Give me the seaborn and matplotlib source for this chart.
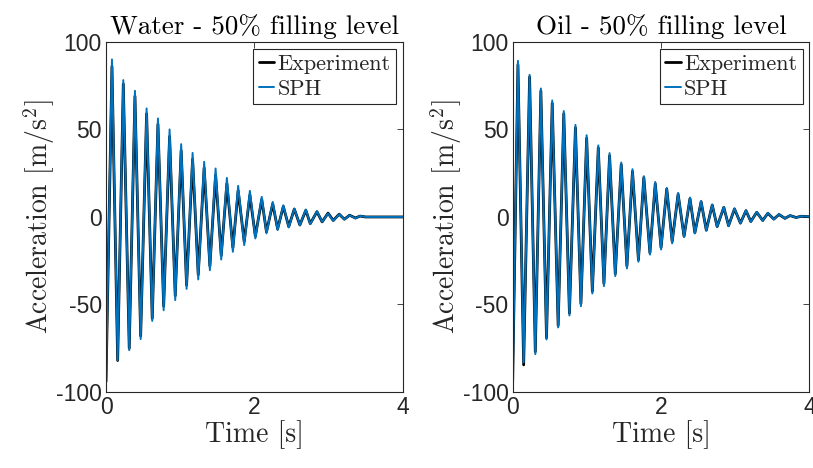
import matplotlib
matplotlib.use("Agg")
import matplotlib.pyplot as plt
import seaborn as sns
import pandas as pd

# extrema (time in s, acceleration in m/s^2)
# Water - 50% filling level
water_trough_t = [0.0, 0.157, 0.313, 0.467, 0.623, 0.777, 0.933, 1.086, 1.243, 1.40, 1.553, 1.71,
                  1.863, 2.013, 2.163, 2.313, 2.463, 2.613, 2.753, 2.913, 3.063, 3.213, 3.363]
water_peak_t = [0.08, 0.233, 0.39, 0.547, 0.70, 0.857, 1.013, 1.167, 1.323, 1.477, 1.629, 1.781,
                1.939, 2.099, 2.247, 2.39, 2.538, 2.693, 2.843, 2.993, 3.143, 3.283, 3.423]
water_tail_t = [3.5, 4.0]

water_sph_trough = [-95, -81.8, -76.1, -69.8, -59.4, -53.3, -47.5, -41.1, -35.7, -30.4, -24.3, -19.9,
                    -16.1, -12.3, -9.4, -7.5, -6.0, -4.7, -4.1, -2.8, -2.2, -1.4, -0.8]
water_sph_peak = [90.0, 78.2, 72.1, 62.0, 56.3, 50.0, 41.6, 36.6, 31.5, 27.7, 22.3, 17.8,
                  14.9, 11.5, 8.6, 6.7, 4.8, 4.3, 3.3, 2.0, 1.6, 1.0, 0.6]
water_exp_trough = [-94, -82, -75, -68, -58, -51, -45, -39, -33, -28, -22, -17.5,
                    -14, -11, -8.5, -6.8, -5.5, -4.6, -3.8, -2.8, -2.0, -1.3, -0.6]
water_exp_peak = [86, 76, 69, 59, 53, 46, 38, 33, 28, 24, 19, 15,
                  12.5, 10, 7.5, 6, 4.5, 3.8, 3.0, 2.2, 1.6, 1.0, 0.5]
water_tail = [0.0, 0.0]

# Oil - 50% filling level
oil_trough_t = [0.0, 0.148, 0.305, 0.456, 0.613, 0.765, 0.92, 1.074, 1.23, 1.383, 1.54, 1.695, 1.85,
                2.0, 2.15, 2.31, 2.456, 2.61, 2.756, 2.91, 3.07, 3.21, 3.37, 3.52, 3.67, 3.82]
oil_peak_t = [0.071, 0.228, 0.38, 0.533, 0.689, 0.846, 0.997, 1.154, 1.306, 1.463, 1.615, 1.768, 1.922,
              2.077, 2.23, 2.39, 2.54, 2.69, 2.846, 2.99, 3.145, 3.29, 3.44, 3.59, 3.74, 3.89]
oil_tail_t = [4.0]

oil_sph_trough = [-95, -83, -78.4, -70, -63.1, -56.3, -51, -43.7, -39.5, -33.8, -29.4, -25.6, -21.5,
                  -18.6, -15.1, -11.5, -9.4, -7.9, -5.7, -5.3, -3.7, -2.8, -2.2, -1.4, -0.9, -0.4]
oil_sph_peak = [89.2, 81.2, 73.4, 66.6, 60.5, 52.6, 46.7, 40.9, 36.5, 31.1, 27.3, 23.3, 20.0,
                16.6, 13.8, 11.1, 9.2, 7.1, 5.8, 4.9, 3.9, 2.9, 2.3, 1.6, 0.9, 0.5]
oil_exp_trough = [-94, -84.5, -77, -69, -62, -55, -49.5, -42.5, -38, -32.5, -28, -24.5, -20.5,
                  -17.5, -14, -11, -9, -7.5, -5.5, -5, -3.5, -2.6, -2, -1.2, -0.8, -0.3]
oil_exp_peak = [87, 80, 72, 65, 59, 51, 45, 39.5, 35, 30, 26, 22.5, 19,
                16, 13, 10.5, 8.7, 6.8, 5.5, 4.6, 3.6, 2.7, 2.1, 1.4, 0.8, 0.4]
oil_tail = [0.1]

titles = ["Water - 50% filling level", "Oil - 50% filling level"]


def series(trough_t, trough_v, peak_t, peak_v, tail_t, tail_v):
    pts = sorted(zip(trough_t + peak_t + tail_t, trough_v + peak_v + tail_v))
    return pd.DataFrame(pts, columns=["time", "acc"])


sns.set_theme(style="white")
plt.rcParams["font.family"] = ["Liberation Sans", "DejaVu Sans"]
plt.rcParams["mathtext.fontset"] = "cm"
plt.rcParams["axes.unicode_minus"] = False

fig = plt.figure(figsize=(8.13, 4.68), dpi=100)
ax1 = fig.add_axes([0.1304, 0.1624, 0.365, 0.748])
ax2 = fig.add_axes([0.6306, 0.1624, 0.365, 0.748])

panels = [
    (ax1, series(water_trough_t, water_exp_trough, water_peak_t, water_exp_peak, water_tail_t, water_tail),
     series(water_trough_t, water_sph_trough, water_peak_t, water_sph_peak, water_tail_t, water_tail)),
    (ax2, series(oil_trough_t, oil_exp_trough, oil_peak_t, oil_exp_peak, oil_tail_t, oil_tail),
     series(oil_trough_t, oil_sph_trough, oil_peak_t, oil_sph_peak, oil_tail_t, oil_tail)),
]

serif = "cmr10"
for (ax, exp_df, sph_df), title in zip(panels, titles):
    sns.lineplot(data=exp_df, x="time", y="acc", ax=ax, color="black", lw=2.0,
                 label="Experiment", sort=False)
    sns.lineplot(data=sph_df, x="time", y="acc", ax=ax, color="#0072BD", lw=1.4,
                 label="SPH", sort=False)
    ax.set_xlim(0, 4)
    ax.set_ylim(-100, 100)
    ax.set_xticks([0, 2, 4])
    ax.set_yticks([-100, -50, 0, 50, 100])
    ax.tick_params(direction="in", length=4, width=0.6, labelsize=16.5, colors="#262626",
                   top=True, right=True, pad=3)
    for s in ax.spines.values():
        s.set_color("#262626")
        s.set_linewidth(0.8)
    ax.set_title(title, fontfamily=serif, fontsize=19.5, pad=6, color="black")
    ax.set_xlabel("Time [s]", fontfamily=serif, fontsize=20, labelpad=1)
    ax.set_ylabel("Acceleration [m/s$^2$]", fontfamily=serif, fontsize=20, labelpad=-1)
    leg = ax.legend(loc="upper right", prop={"family": serif, "size": 16},
                    frameon=True, fancybox=False, framealpha=1, edgecolor="#262626",
                    borderpad=0.25, handlelength=0.7, handletextpad=0.15,
                    labelspacing=0.25, borderaxespad=0.3)
    leg.get_frame().set_linewidth(0.8)

fig.savefig("out.png", dpi=100)
